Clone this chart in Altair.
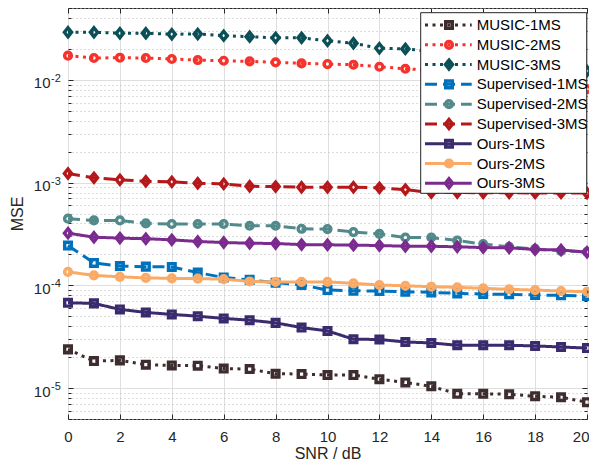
import altair as alt
import pandas as pd

snr = list(range(21))

names = ["MUSIC-1MS", "MUSIC-2MS", "MUSIC-3MS",
         "Supervised-1MS", "Supervised-2MS", "Supervised-3MS",
         "Ours-1MS", "Ours-2MS", "Ours-3MS"]

music_1ms = [2.38e-5, 1.83e-5, 1.86e-5, 1.69e-5, 1.66e-5, 1.65e-5, 1.55e-5, 1.53e-5, 1.38e-5, 1.37e-5,
             1.34e-5, 1.34e-5, 1.22e-5, 1.135e-5, 1.04e-5, 8.8e-6, 8.8e-6, 8.7e-6, 8.33e-6, 8.14e-6, 7.28e-6]
music_2ms = [0.01717, 0.01630, 0.01641, 0.01630, 0.01594, 0.01558, 0.01533, 0.01513, 0.01479, 0.01447,
             0.01424, 0.01402, 0.01340, 0.01281, 0.0124, 0.0119, 0.0113, 0.0106, 0.0099, 0.0091, 0.00811]
music_3ms = [0.0290, 0.0290, 0.0284, 0.0284, 0.0278, 0.0279, 0.0269, 0.0263, 0.0256, 0.0256,
             0.0240, 0.0227, 0.0203, 0.0200, 0.0190, 0.0180, 0.0168, 0.0155, 0.0143, 0.0132, 0.0122]
sup_1ms = [2.44e-4, 1.65e-4, 1.54e-4, 1.52e-4, 1.51e-4, 1.33e-4, 1.19e-4, 1.13e-4, 1.06e-4, 1.01e-4,
           9.0e-5, 8.85e-5, 8.8e-5, 8.66e-5, 8.54e-5, 8.35e-5, 8.22e-5, 8.17e-5, 8.04e-5, 7.99e-5, 7.86e-5]
sup_2ms = [4.45e-4, 4.28e-4, 4.28e-4, 4.0e-4, 3.95e-4, 3.95e-4, 3.95e-4, 3.80e-4, 3.80e-4, 3.55e-4,
           3.53e-4, 3.30e-4, 3.17e-4, 2.92e-4, 2.92e-4, 2.73e-4, 2.52e-4, 2.37e-4, 2.26e-4, 2.16e-4, 2.12e-4]
sup_3ms = [1.224e-3, 1.112e-3, 1.063e-3, 1.030e-3, 1.016e-3, 0.984e-3, 0.971e-3, 0.920e-3, 0.914e-3, 0.900e-3,
           0.900e-3, 0.900e-3, 0.888e-3, 0.854e-3, 0.800e-3, 0.800e-3, 0.795e-3, 0.795e-3, 0.793e-3, 0.793e-3, 0.790e-3]
ours_1ms = [6.76e-5, 6.67e-5, 5.83e-5, 5.45e-5, 5.21e-5, 5.01e-5, 4.76e-5, 4.58e-5, 4.31e-5, 3.88e-5,
            3.60e-5, 2.99e-5, 2.97e-5, 2.81e-5, 2.75e-5, 2.61e-5, 2.61e-5, 2.61e-5, 2.57e-5, 2.51e-5, 2.45e-5]
ours_2ms = [1.35e-4, 1.25e-4, 1.21e-4, 1.18e-4, 1.17e-4, 1.16e-4, 1.15e-4, 1.09e-4, 1.08e-4, 1.08e-4,
            1.08e-4, 1.046e-4, 1.007e-4, 9.9e-5, 9.69e-5, 9.56e-5, 9.35e-5, 9.14e-5, 8.99e-5, 8.8e-5, 8.66e-5]
ours_3ms = [3.22e-4, 2.94e-4, 2.88e-4, 2.84e-4, 2.77e-4, 2.67e-4, 2.61e-4, 2.57e-4, 2.55e-4, 2.49e-4,
            2.48e-4, 2.46e-4, 2.44e-4, 2.40e-4, 2.40e-4, 2.37e-4, 2.33e-4, 2.32e-4, 2.23e-4, 2.21e-4, 2.10e-4]

series_values = [music_1ms, music_2ms, music_3ms, sup_1ms, sup_2ms, sup_3ms, ours_1ms, ours_2ms, ours_3ms]

# y-axis decade labels: mantissa "10" and exponent
decade_values = [1e-5, 1e-4, 1e-3, 1e-2]
decade_exponents = ["-5", "-4", "-3", "-2"]

colors = ["#3e2d2f", "#f8312b", "#0b4f57", "#0072bd", "#52898a", "#b5181b", "#3a2a6e", "#fbaa66", "#7b2a8f"]
DIAMOND = "M0,-1L0.8,0L0,1L-0.8,0Z"
dotted = [3, 4.5]
dashed = [12, 6]
solid = [1, 0]
dashes = [dotted] * 3 + [dashed] * 3 + [solid] * 3
shapes = ["square", "circle", DIAMOND] * 3
sizes = {"square": 44, "circle": 46, DIAMOND: 80}
MARK_STROKE = 3.4

W, H = 519, 411
AX = "#262626"

rows = []
for name, vals in zip(names, series_values):
    for s, v in zip(snr, vals):
        rows.append({"series": name, "snr": s, "mse": v})
df = pd.DataFrame(rows)

y_ticks = []
for e in [-6, -5, -4, -3, -2]:
    for m in range(1, 10):
        v = float(f"{m}e{e}")
        if 5e-6 - 1e-12 <= v <= 5e-2 + 1e-12:
            y_ticks.append(v)
x_ticks = list(range(0, 21, 2))

is_major = "datum.value == 1e-5 || datum.value == 1e-4 || datum.value == 0.001 || datum.value == 0.01"
label_expr = "(" + is_major + ") ? '10' : ''"

x_scale = alt.Scale(domain=[0, 20], nice=False, zero=False)
y_scale = alt.Scale(type="log", domain=[5e-6, 5e-2], nice=False)

x_enc = alt.X("snr:Q", scale=x_scale,
              axis=alt.Axis(values=x_ticks, title="SNR / dB", grid=True,
                            gridColor="#dedede", gridWidth=1, ticks=False, labelPadding=10,
                            labelFontSize=15, titleFontSize=16, titleFontWeight="normal",
                            titleY=39, titleBaseline="alphabetic",
                            domain=False, labelFlush=False,
                            labelAlign={"condition": {"test": "datum.value == 20", "value": "right"},
                                        "value": "center"},
                            labelOffset={"condition": {"test": "datum.value == 20", "value": 2},
                                         "value": 0}))
y_enc = alt.Y("mse:Q", scale=y_scale,
              axis=alt.Axis(values=y_ticks, labelExpr=label_expr, title="MSE", grid=True,
                            gridColor={"condition": {"test": is_major, "value": "#dedede"}, "value": "#b8b8b8"},
                            gridDash={"condition": {"test": is_major, "value": []}, "value": [1, 3]},
                            ticks=False, labelPadding=18, labelFontSize=15, labelOffset=3,
                            titleFontSize=16, titleFontWeight="normal",
                            titleX=-51, titleY=H / 2, titleAngle=270, titleAlign="center",
                            titleBaseline="middle", domain=False, labelFlush=False))

layers = []
for name, col, dash, shp in zip(names, colors, dashes, shapes):
    base = alt.Chart(df).transform_filter(alt.datum.series == name)
    line = base.mark_line(color=col, strokeDash=dash, strokeWidth=3, strokeCap="butt").encode(x=x_enc, y=y_enc)
    pts = base.mark_point(shape=shp, color=col, filled=False, size=sizes[shp], strokeWidth=MARK_STROKE,
                          opacity=1).encode(x=x_enc, y=y_enc)
    layers += [line, pts]

expo_df = pd.DataFrame({"mse": decade_values, "expo": decade_exponents})
expo = alt.Chart(expo_df).mark_text(align="left", baseline="alphabetic", dy=2, fontSize=11, color=AX).encode(
    x=alt.value(-17), y=alt.Y("mse:Q", scale=y_scale), text="expo:N")
series_layer = alt.layer(*layers, expo)

# inward tick marks on all four sides of the box
tick_size_y = {"condition": {"test": is_major, "value": 5}, "value": 3}


def y_tick_axis(orient):
    return alt.Chart(df).mark_point(opacity=0).encode(
        x=alt.X("snr:Q", scale=x_scale, axis=None),
        y=alt.Y("mse:Q", scale=y_scale,
                axis=alt.Axis(orient=orient, offset=-W, values=y_ticks, labels=False, ticks=True,
                              tickSize=tick_size_y, tickColor=AX, tickWidth=1, domain=False,
                              grid=False, title=None)))


def x_tick_axis(orient):
    return alt.Chart(df).mark_point(opacity=0).encode(
        x=alt.X("snr:Q", scale=x_scale,
                axis=alt.Axis(orient=orient, offset=-H, values=x_ticks, labels=False, ticks=True,
                              tickSize=5, tickColor=AX, tickWidth=1, domain=False, grid=False,
                              title=None)),
        y=alt.Y("mse:Q", scale=y_scale, axis=None))


plot = alt.layer(series_layer, y_tick_axis("right"), y_tick_axis("left"),
                 x_tick_axis("top"), x_tick_axis("bottom")).resolve_axis(x="independent", y="independent")

# Legend drawn in a box at the upper right
leg_df = pd.DataFrame({"series": names, "idx": list(range(len(names)))})
leg_y = alt.Y("idx:Q", scale=alt.Scale(domain=[0, 8], range=[17, 175.3]), axis=None)
box = alt.Chart(pd.DataFrame({"a": [0]})).mark_rect(fill="white", stroke=AX, strokeWidth=1).encode(
    x=alt.value(352.7), x2=alt.value(518.7), y=alt.value(4.7), y2=alt.value(185.3))
leg_layers = [box]
for name, col, dash, shp in zip(names, colors, dashes, shapes):
    b = alt.Chart(leg_df).transform_filter(alt.datum.series == name)
    leg_layers.append(b.mark_rule(color=col, strokeDash=dash, strokeWidth=3, strokeCap="butt").encode(
        x=alt.value(357), x2=alt.value(403.7), y=leg_y))
    leg_layers.append(b.mark_point(shape=shp, color=col, filled=False, size=sizes[shp],
                                   strokeWidth=MARK_STROKE, opacity=1).encode(x=alt.value(381), y=leg_y))
leg_layers.append(alt.Chart(leg_df).mark_text(align="left", baseline="middle", fontSize=15,
                                              color="#000000").encode(
    x=alt.value(408.7), y=leg_y, text="series:N"))
legend = alt.layer(*leg_layers)

chart = alt.layer(plot, legend).resolve_scale(y="independent").properties(
    width=W, height=H,
    autosize=alt.AutoSizeParams(type="none"),
    padding={"left": 60, "top": 0, "right": 2, "bottom": 41},
).configure(font="Liberation Sans").configure_view(stroke=AX, strokeWidth=1).configure_axis(
    labelColor=AX, titleColor=AX, labelFont="Liberation Sans", titleFont="Liberation Sans")

chart.save("out.html", embed_options={"renderer": "svg", "actions": False})
